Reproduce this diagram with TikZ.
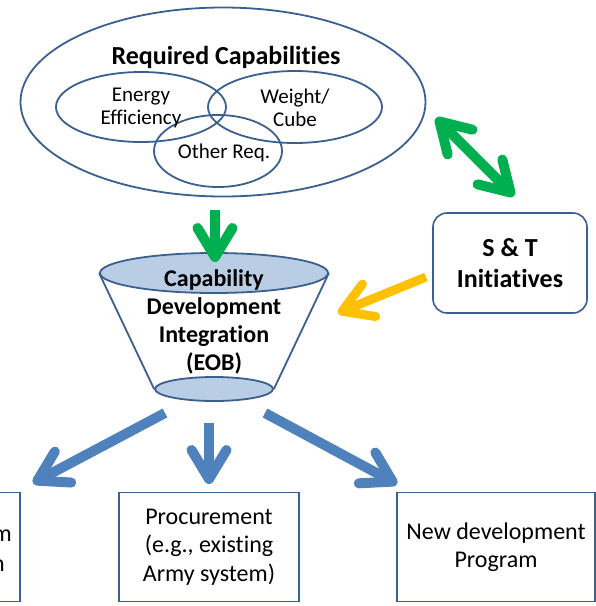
\documentclass[tikz,border=0pt]{standalone}
\usepackage{fontspec}
\setmainfont{Carlito}[Ligatures={NoCommon}]
\usetikzlibrary{shapes.geometric,arrows.meta}
\definecolor{outl}{HTML}{3B5F8E}
\definecolor{arrblue}{HTML}{4F81BD}
\definecolor{arrgreen}{HTML}{00B050}
\definecolor{arrorange}{HTML}{FFC000}
\definecolor{funfill}{HTML}{B9CDE5}

\begin{document}
\begin{tikzpicture}[x=1pt,y=-1pt]
        \tikzstyle{ring}=[ellipse,draw=outl,line width=1.8pt,inner sep=0pt]
        \tikzstyle{box}=[rectangle,draw=outl,line width=1.6pt,align=center,inner sep=0pt]
        \tikzstyle{fat}=[line width=10pt,-{Straight Barb[length=29pt,width=35pt,round]}]
        \tikzstyle{reg}=[font=\fontsize{21}{23}\selectfont,align=center,inner sep=0pt]
        \useasboundingbox (0,0) rectangle (596,606);
        \node[ring,minimum width=405pt,minimum height=189pt] (req) at (223,102) {};
        \node[font=\bfseries\fontsize{26}{30}\selectfont,inner sep=0pt] (reqtxt) at (226,57) {Required Capabilities};
        \node[ring,minimum width=170pt,minimum height=70pt] (energy) at (141,107) {};
        \node[ring,minimum width=174pt,minimum height=72pt] (weight) at (295,107) {};
        \node[ring,minimum width=128pt,minimum height=72pt] (other) at (218,151) {};
        \node[reg] (energytxt) at (141,108) {Energy\\Efficiency};
        \node[reg] (weighttxt) at (295,108) {Weight/\\Cube};
        \node[reg] (othertxt) at (224,153) {Other Req.};
        \node[ring,fill=funfill,minimum width=228pt,minimum height=40pt] (funtop) at (214,273) {};
        \node[ring,fill=funfill,minimum width=118pt,minimum height=24pt] (funbot) at (214,389) {};
        \draw[outl,line width=1.8pt] (funtop.west) -- (funbot.west) (funtop.east) -- (funbot.east);
        \node[font=\bfseries\fontsize{24}{28}\selectfont,align=center,inner sep=0pt] (cdi) at (214,322) {Capability\\Development\\Integration\\(EOB)};
        \node[box,rounded corners=14pt,minimum width=154pt,minimum height=100pt,font=\bfseries\fontsize{26}{31}\selectfont] (snt) at (510,263) {S \& T\\Initiatives};
        \node[box,minimum width=180pt,minimum height=109pt,font=\fontsize{24}{28.5}\selectfont] (proc) at (209,547) {Procurement\\(e.g., existing\\Army system)};
        \node[box,minimum width=198pt,minimum height=109pt,font=\fontsize{24}{28}\selectfont] (newdev) at (496,547) {New development\\Program};
        \node[box,minimum width=140pt,minimum height=109pt,anchor=east] (left) at (21,547) {};
        \node[font=\fontsize{24}{28}\selectfont,anchor=base east,inner sep=0pt] (lefta) at (12,541) {m};
        \node[font=\fontsize{24}{28}\selectfont,anchor=base east,inner sep=0pt] (leftb) at (5,571) {n};
        \coordinate (g1) at (215,210);
        \coordinate (g2) at (215,262);
        \coordinate (d1) at (436,118);
        \coordinate (d2) at (514,196);
        \coordinate (o1) at (426,277);
        \coordinate (o2) at (338,313);
        \coordinate (b0) at (209,423);
        \coordinate (b1) at (165,413);
        \coordinate (b2) at (265,413);
        \coordinate (t0) at (209,484);
        \coordinate (t1) at (33,483);
        \coordinate (t2) at (397,484);
        \draw[fat,arrgreen] (g1) -- (g2);
        \draw[line width=10pt,arrgreen,{Straight Barb[length=29pt,width=35pt,round]}-{Straight Barb[length=29pt,width=35pt,round]}] (d1) -- (d2);
        \draw[fat,arrorange,line width=9pt] (o1) -- (o2);
        \draw[fat,arrblue] (b0) -- (t0);
        \draw[fat,arrblue] (b1) -- (t1);
        \draw[fat,arrblue] (b2) -- (t2);
\end{tikzpicture}
\end{document}
